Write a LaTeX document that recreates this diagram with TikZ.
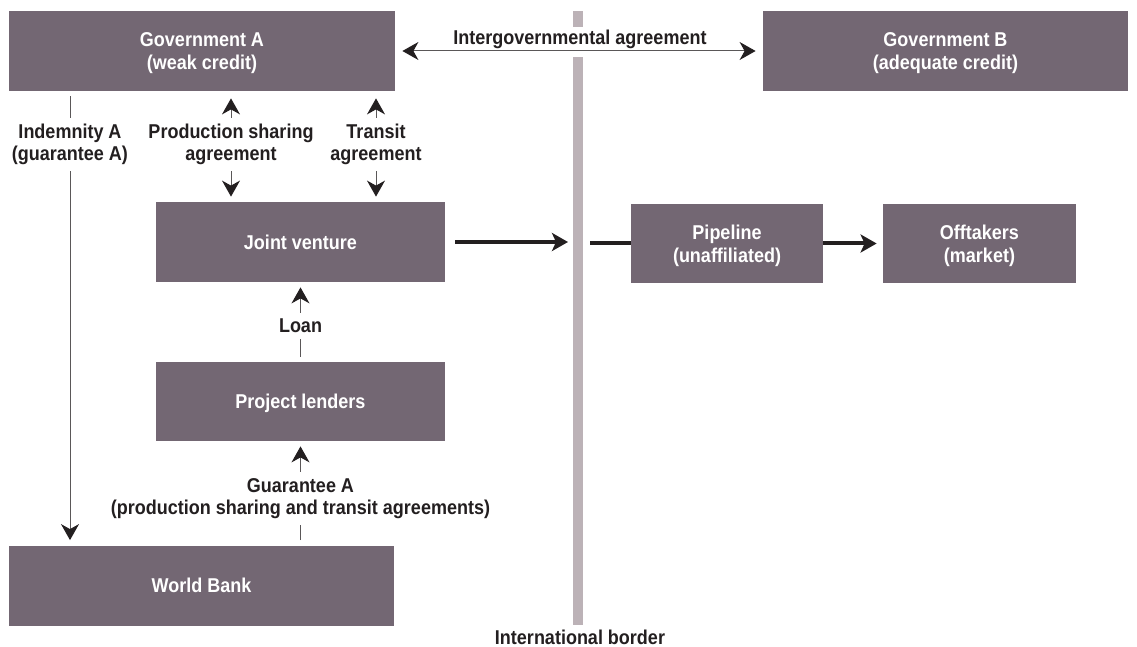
\documentclass[tikz,border=0pt]{standalone}
\usepackage{fontspec}
\setmainfont{Liberation Sans}[FakeStretch=0.9]
\usetikzlibrary{arrows.meta}
\definecolor{caja}{RGB}{115,103,115}
\definecolor{frontera}{RGB}{188,178,183}
\definecolor{tinta}{RGB}{35,31,32}
\begin{document}
\begin{tikzpicture}[x=0.5pt,y=-0.5pt,
    >={Stealth[length=8pt, width=9pt, inset=2.5pt, color=tinta]},
    caja/.style={fill=caja, text=white, font=\fontsize{10}{11.5}\selectfont\bfseries,
        align=center, inner sep=0pt, minimum height=40pt, text depth=0pt},
    etiqueta/.style={fill=white, text=tinta, font=\fontsize{10}{11}\selectfont\bfseries,
        align=center, inner xsep=3pt, inner ysep=3pt},
    fina/.style={draw=tinta!75, line width=0.5pt, shorten <=2.5pt, shorten >=2.5pt},
    gruesa/.style={draw=tinta, line width=2pt, -{Stealth[length=8pt, width=9pt, inset=2pt]}}]
    \useasboundingbox (0,0) rectangle (1137,647);
    % Frontera
    \fill[frontera] (573,11) rectangle (583,625);
    \node[text=tinta, font=\fontsize{10}{11}\selectfont\bfseries] (rotulo) at (580,637) {International border};
    % Cajas
    \node[caja, minimum width=193pt] (gobA) at (202,51) {Government A\\(weak credit)};
    \node[caja, minimum width=182.5pt] (gobB) at (945.5,51) {Government B\\(adequate credit)};
    \node[caja, minimum width=144.5pt] (empresa) at (300.5,242) {Joint venture};
    \node[caja, minimum width=144.5pt, minimum height=39.5pt] (prestamistas) at (300.5,401.5) {Project lenders};
    \node[caja, minimum width=192.5pt] (banco) at (201.5,585.5) {World Bank};
    \node[caja, minimum width=96pt, minimum height=39.5pt] (ducto) at (727,243.5) {Pipeline\\(unaffiliated)};
    \node[caja, minimum width=96.5pt, minimum height=39.5pt] (compradores) at (979.5,243.5) {Offtakers\\(market)};
    % Acuerdo entre gobiernos
    \node[fill=white, text=tinta, font=\fontsize{10}{11}\selectfont\bfseries, anchor=base,
        text height=9pt, text depth=6pt, inner ysep=0pt, inner xsep=3pt] (acuerdo) at (580,45) {Intergovernmental agreement};
    \draw[fina, <->, shorten <=3.5pt, shorten >=3.5pt] (gobA.east) -- (gobB.west);
    % Acuerdos verticales
    \coordinate (ind) at (70,0);
    \coordinate (psa) at (231,0);
    \coordinate (tra) at (376,0);
    \draw[fina, ->] (gobA.south -| ind) -- (banco.north -| ind)
        node[etiqueta, pos=0.117] {Indemnity A\\(guarantee A)};
    \draw[fina, <->, shorten <=3.5pt] (gobA.south -| psa) -- (empresa.north -| psa)
        node[etiqueta, pos=0.48] {Production sharing\\agreement};
    \draw[fina, <->, shorten <=3.5pt] (gobA.south -| tra) -- (empresa.north -| tra)
        node[etiqueta, pos=0.48] {Transit\\agreement};
    \draw[fina, ->] (prestamistas.north) -- (empresa.south)
        node[etiqueta, pos=0.45] {Loan};
    \draw[fina, ->] (banco.north -| prestamistas) -- (prestamistas.south)
        node[etiqueta, pos=0.45] {Guarantee A\\(production sharing and transit agreements)};
    % Flujo del gas
    \coordinate (bordeI) at (568,242);
    \coordinate (bordeD) at (590,243.5);
    \draw[gruesa, shorten <=5pt] (empresa.east) -- (bordeI);
    \draw[tinta, line width=2pt] (bordeD) -- (ducto.west);
    \draw[gruesa, shorten >=3pt] (ducto.east) -- (compradores.west);
\end{tikzpicture}
\end{document}
